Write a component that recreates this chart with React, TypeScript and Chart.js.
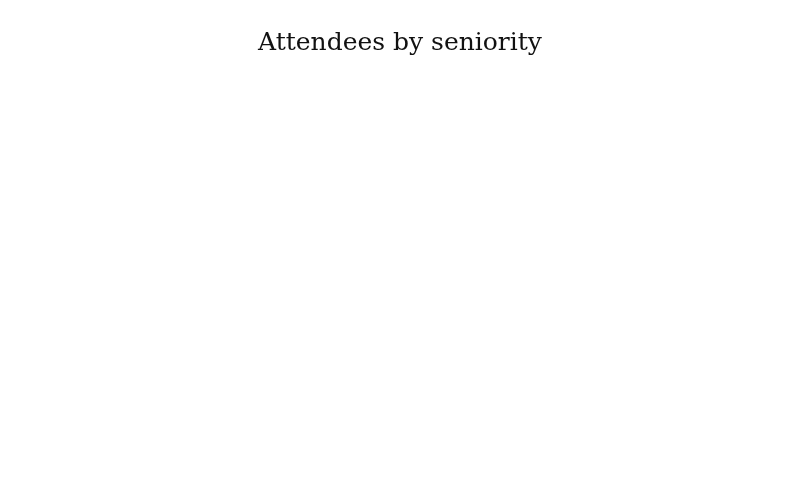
import { useEffect, useRef } from 'react';
import { Chart, registerables } from 'chart.js';

Chart.register(...registerables);

// The reference shows only the title: no slice, label or legend is drawn.
const categories: string[] = ['Junior', 'Mid-level', 'Senior', 'Executive'];
const attendees: number[] = [0, 0, 0, 0];

export default function App() {
  const canvasRef = useRef<HTMLCanvasElement>(null);

  useEffect(() => {
    document.body.style.margin = '0';
    if (!canvasRef.current) return;

    const chart = new Chart(canvasRef.current, {
      type: 'pie',
      data: {
        labels: categories,
        datasets: [
          {
            data: attendees,
            backgroundColor: ['#4e79a7', '#f28e2b', '#e15759', '#76b7b2'],
            borderWidth: 0
          }
        ]
      },
      options: {
        responsive: true,
        maintainAspectRatio: false,
        animation: false,
        plugins: {
          legend: { display: false },
          tooltip: { enabled: false },
          title: {
            display: true,
            text: 'Attendees by seniority',
            color: '#111111',
            font: { family: 'DejaVu Serif', size: 25, weight: 'normal' },
            padding: { top: 28, bottom: 10 }
          }
        }
      }
    });

    return () => {
      chart.destroy();
    };
  }, []);

  return (
    <div style={{ width: 800, height: 497, background: '#ffffff' }}>
      <canvas ref={canvasRef}></canvas>
    </div>
  );
}
